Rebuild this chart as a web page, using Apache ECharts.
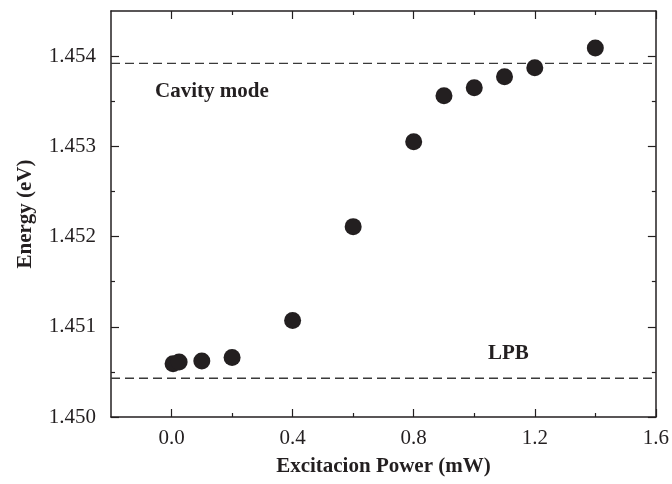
<!DOCTYPE html>
<html>
<head>
<meta charset="utf-8">
<script src="https://cdn.jsdelivr.net/npm/echarts@6/dist/echarts.min.js"></script>
<style>
  html, body { margin: 0; padding: 0; background: #fff; }
  #chart { width: 672px; height: 484px; }
</style>
</head>
<body>
<div id="chart"></div>
<script>
// data
const power = [0.005, 0.025, 0.1, 0.2, 0.4, 0.6, 0.8, 0.9, 1.0, 1.1, 1.2, 1.4];
const energy = [1.45059, 1.45061, 1.45062, 1.45066, 1.45107, 1.45211, 1.45305, 1.45356, 1.45365, 1.45377, 1.45387, 1.45409];
const cavityMode = 1.45392;
const lpb = 1.45043;
const xRange = [-0.2, 1.6];

const xMajor = [0, 0.4, 0.8, 1.2, 1.6];
const xMinor = [0.2, 0.6, 1.0, 1.4];
const yMajor = [1.450, 1.451, 1.452, 1.453, 1.454];
const yMinor = [1.4505, 1.4515, 1.4525, 1.4535];

const ink = '#231f20';
const serif = 'Liberation Serif';

// one axis per tick set, so major and minor ticks can have different lengths
function axis(opts) {
  const a = {
    type: 'value',
    position: opts.pos,
    min: opts.min,
    max: opts.max,
    splitLine: { show: false },
    axisLine: { show: !!opts.line, onZero: false, lineStyle: { color: ink, width: 1.5 } },
    axisTick: {
      show: true, inside: true, length: opts.len,
      customValues: opts.ticks,
      lineStyle: { color: ink, width: 1.2 }
    },
    axisLabel: { show: false }
  };
  if (opts.labels) {
    a.axisLabel = {
      show: true,
      customValues: opts.ticks,
      margin: opts.margin,
      color: ink,
      fontFamily: serif,
      fontSize: 21,
      formatter: v => v.toFixed(opts.digits)
    };
  }
  if (opts.name) {
    a.name = opts.name;
    a.nameLocation = 'middle';
    a.nameGap = opts.nameGap;
    a.nameTextStyle = { color: ink, fontFamily: serif, fontWeight: 'bold', fontSize: 21 };
  }
  return a;
}

// straight dashed reference line across the whole x range
function hLine(y) {
  return {
    type: 'line',
    xAxisIndex: 0,
    yAxisIndex: 0,
    symbol: 'none',
    silent: true,
    lineStyle: { color: '#3a3a3a', width: 1.4, type: [9, 5] },
    data: [[xRange[0], y], [xRange[1], y]],
    z: 1
  };
}

const chart = echarts.init(document.getElementById('chart'), null, { renderer: 'canvas' });

chart.setOption({
  backgroundColor: '#fff',
  animation: false,
  grid: { left: 111, right: 15, top: 11, bottom: 67 },
  xAxis: [
    axis({ pos: 'bottom', min: xRange[0], max: xRange[1], ticks: xMajor, len: 8, line: true, labels: true, digits: 1, margin: 11,
           name: 'Excitacion Power (mW)', nameGap: 39 }),
    axis({ pos: 'bottom', min: xRange[0], max: xRange[1], ticks: xMinor, len: 4 }),
    axis({ pos: 'top', min: xRange[0], max: xRange[1], ticks: xMajor, len: 8, line: true }),
    axis({ pos: 'top', min: xRange[0], max: xRange[1], ticks: xMinor, len: 4 })
  ],
  yAxis: [
    axis({ pos: 'left', min: 1.450, max: 1.4545, ticks: yMajor, len: 8, line: true, labels: true, digits: 3, margin: 15,
           name: 'Energy (eV)', nameGap: 75 }),
    axis({ pos: 'left', min: 1.450, max: 1.4545, ticks: yMinor, len: 4 }),
    axis({ pos: 'right', min: 1.450, max: 1.4545, ticks: yMajor, len: 8, line: true }),
    axis({ pos: 'right', min: 1.450, max: 1.4545, ticks: yMinor, len: 4 })
  ],
  series: [
    hLine(cavityMode),
    hLine(lpb),
    {
      type: 'scatter',
      xAxisIndex: 0,
      yAxisIndex: 0,
      symbol: 'circle',
      symbolSize: 17,
      itemStyle: { color: ink, opacity: 1 },
      data: power.map((p, i) => [p, energy[i]]),
      z: 3
    }
  ],
  graphic: [
    { type: 'text', x: 155, y: 92,
      style: { text: 'Cavity mode', fill: ink, font: 'bold 21px "Liberation Serif"', verticalAlign: 'middle' } },
    { type: 'text', x: 488, y: 354,
      style: { text: 'LPB', fill: ink, font: 'bold 21px "Liberation Serif"', verticalAlign: 'middle' } }
  ]
});
</script>
</body>
</html>
